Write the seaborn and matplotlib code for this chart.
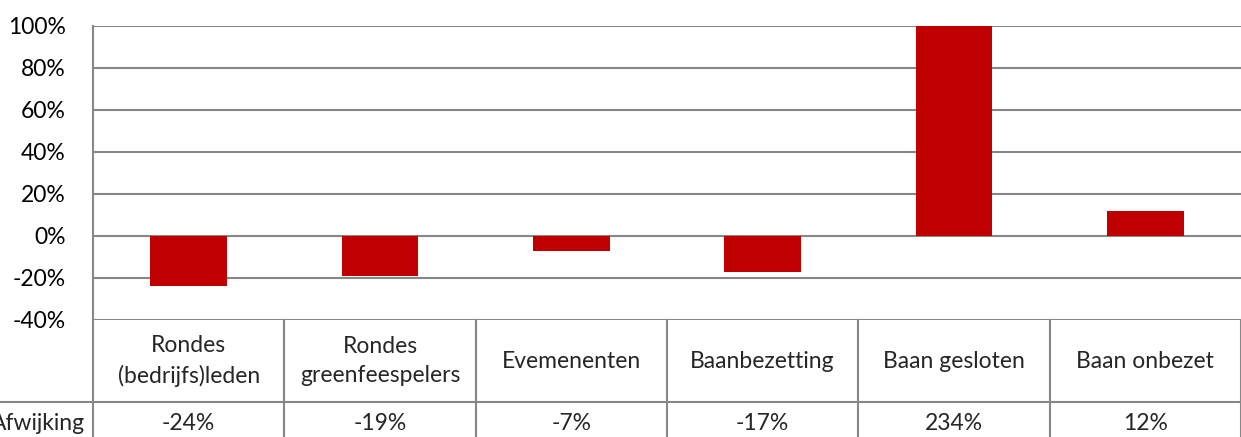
import matplotlib
matplotlib.use("Agg")
import matplotlib.pyplot as plt
import seaborn as sns
import pandas as pd
from matplotlib.lines import Line2D

# === Data ===
categories = ["Rondes\n(bedrijfs)leden", "Rondes\ngreenfeespelers", "Evemenenten",
              "Baanbezetting", "Baan gesloten", "Baan onbezet"]
afwijking = [-24, -19, -7, -17, 234, 12]
row_label = "Afwijking"
yticks = [-40, -20, 0, 20, 40, 60, 80, 100]

df = pd.DataFrame({"categorie": categories, "afwijking": afwijking})

sns.set_style("white")
plt.rcParams["font.family"] = ["Lato", "DejaVu Sans"]
fs = 16.5

W, H = 1241, 437
fig = plt.figure(figsize=(W / 100, H / 100), dpi=100)
# plot area in pixels: x 93..1241, y 26..320
ax = fig.add_axes([93 / W, 1 - 320 / H, (W - 93) / W, (320 - 26) / H])

sns.barplot(data=df, x="categorie", y="afwijking", color="#C00000", width=0.4,
            saturation=1, linewidth=0, ax=ax, zorder=3)

grid_c = "#878787"
ax.set_ylim(-40, 100)
ax.set_xlim(-0.5, len(categories) - 0.5)
ax.set_yticks(yticks)
ax.set_yticklabels([f"{t}%" for t in yticks], fontsize=fs, color="black")
ax.tick_params(axis="y", length=0, pad=19.5)
ax.set_xticks([])
ax.set_xlabel("")
ax.set_ylabel("")
for t in yticks:
    ax.axhline(t, color=grid_c, lw=1.5, zorder=1)
for s in ["top", "right", "bottom"]:
    ax.spines[s].set_visible(False)
ax.spines["left"].set_color(grid_c)
ax.spines["left"].set_linewidth(1.5)

# === Data table below the plot ===
tr = ax.get_xaxis_transform()
def yfrac(py):
    return (320 - py) / (320 - 26)

# left axis line continued through table
ax.add_line(Line2D([-0.5, -0.5], [yfrac(320), yfrac(440)], transform=tr,
                   color=grid_c, lw=1.5, clip_on=False))
# vertical separators
for i in range(len(categories)):
    ax.add_line(Line2D([i + 0.5, i + 0.5], [yfrac(320), yfrac(440)], transform=tr,
                       color=grid_c, lw=1.5, clip_on=False))
# horizontal line between header and value row
fig.add_artist(Line2D([0, 1], [1 - 402 / H, 1 - 402 / H], color=grid_c, lw=1.5))

for i, (c, v) in enumerate(zip(categories, afwijking)):
    ax.text(i, yfrac(361), c, transform=tr, ha="center", va="center",
            fontsize=fs, linespacing=1.45, clip_on=False)
    ax.text(i, yfrac(423), f"{v}%", transform=tr, ha="center", va="center",
            fontsize=fs, clip_on=False)

# row label, partly cut off at the left edge as in the original
fig.text(85 / W, 1 - 423 / H, row_label, ha="right", va="center", fontsize=fs)

fig.savefig("out.png", dpi=100)
